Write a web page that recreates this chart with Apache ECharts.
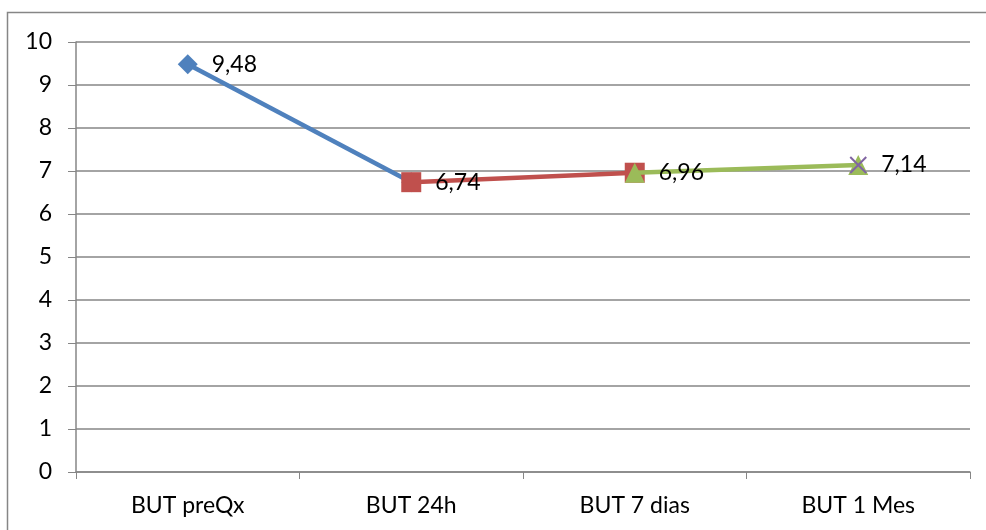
<!DOCTYPE html>
<html>
<head>
<meta charset="utf-8">
<script src="https://cdn.jsdelivr.net/npm/echarts@6/dist/echarts.min.js"></script>
<style>
  html, body { margin: 0; padding: 0; background: #fff; }
  #chart { width: 986px; height: 530px; }
</style>
</head>
<body>
<div id="chart"></div>
<script>
// Time points of the BUT score follow-up
const categories = ['BUT preQx', 'BUT 24h', 'BUT 7 dias', 'BUT 1 Mes'];
// Mean BUT value at each time point
const values = [9.48, 6.74, 6.96, 7.14];
// Y axis ticks
const yTicks = [0, 1, 2, 3, 4, 5, 6, 7, 8, 9, 10];

const colors = ['#4F81BD', '#C0504D', '#9BBB59', '#8064A2'];
const symbols = ['diamond', 'rect', 'triangle', 'path://M0,0L10,10M10,0L0,10'];
const FONT = 'Lato, "Open Sans", sans-serif';
const FONT_SIZE = 23;

function fmt(v) { return String(v.toFixed(2)).replace('.', ','); }

// Each series covers one segment: from point i to point i+1 (last one is a single marker)
const series = values.map(function (v, i) {
  const data = categories.map(function (c, j) {
    if (j === i) {
      return {
        value: values[j],
        label: {
          show: true, position: 'right', distance: 14,
          formatter: function (p) { return fmt(p.value); },
          color: '#000', fontSize: FONT_SIZE, fontFamily: FONT
        }
      };
    }
    if (j === i + 1) return values[j];
    return '-';
  });
  const isCross = i === 3;
  return {
    type: 'line',
    data: data,
    symbol: symbols[i],
    symbolSize: isCross ? 16 : 20,
    showAllSymbol: true,
    lineStyle: { color: colors[i], width: 4.5 },
    itemStyle: isCross
      ? { color: 'rgba(0,0,0,0)', borderColor: colors[i], borderWidth: 2 }
      : { color: colors[i] },
    emphasis: { disabled: true },
    animation: false,
    z: 2 + i
  };
});

const chart = echarts.init(document.getElementById('chart'));
chart.setOption({
  animation: false,
  graphic: [{
    type: 'rect',
    shape: { x: 7.5, y: 12.5, width: 1000, height: 540 },
    style: { fill: 'none', stroke: '#868686', lineWidth: 1.5 },
    silent: true
  }],
  grid: { left: 76, right: 16, top: 42, bottom: 58, containLabel: false },
  xAxis: {
    type: 'category',
    data: categories,
    boundaryGap: true,
    axisLine: { lineStyle: { color: '#868686', width: 1.5 } },
    axisTick: { show: true, length: 7, alignWithLabel: false, lineStyle: { color: '#868686' } },
    axisLabel: { color: '#000', fontSize: FONT_SIZE, fontFamily: FONT, margin: 22 },
    splitLine: { show: false }
  },
  yAxis: {
    type: 'value',
    min: yTicks[0],
    max: yTicks[yTicks.length - 1],
    interval: 1,
    axisLine: { show: true, lineStyle: { color: '#868686', width: 1.5 } },
    axisTick: { show: true, length: 8, lineStyle: { color: '#868686' } },
    axisLabel: { color: '#000', fontSize: FONT_SIZE, fontFamily: FONT, margin: 24 },
    splitLine: { show: true, lineStyle: { color: '#868686', width: 1.5 } }
  },
  series: series
});
</script>
</body>
</html>
